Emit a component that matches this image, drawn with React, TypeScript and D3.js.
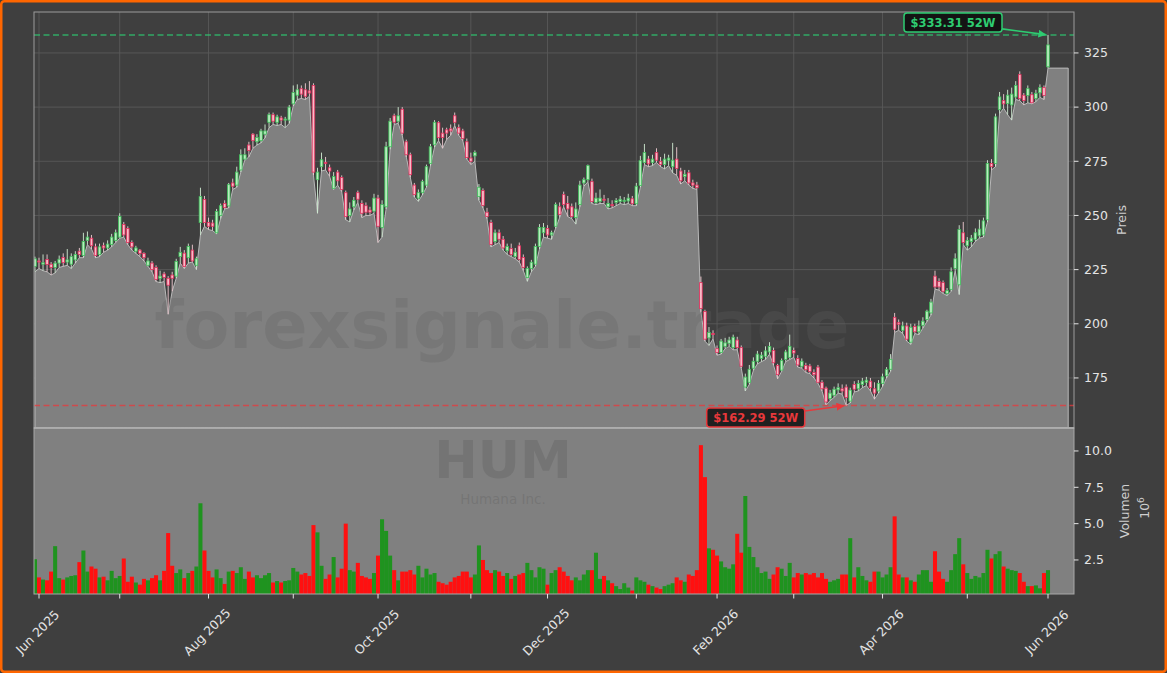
import React, { useEffect, useRef } from 'react';
import * as d3 from 'd3';

// ---- trading calendar ----
const firstDay = '2025-05-30';
const holidays = [
  '2025-06-19', '2025-07-04', '2025-09-01', '2025-11-27', '2025-12-25',
  '2026-01-01', '2026-01-19', '2026-02-16', '2026-04-03', '2026-05-25',
];

// [open, high, low, close], one row per trading day from firstDay
const candles: [number, number, number, number][] = [
  // May 30 / Jun 2025
  [226.5, 231, 224, 230], [229, 230.5, 225.5, 228.5], [227.5, 232, 224.5, 228.2], [229.7, 232, 224, 227.4],
  [227.5, 228.5, 222.5, 226], [226, 229, 223.5, 228], [228, 231.5, 226, 229.8], [230.6, 232.5, 226.5, 228.2],
  [228.5, 234.5, 227, 229.5], [227.5, 232.5, 225.5, 231], [229.5, 233.5, 228, 232], [233.5, 235, 230.5, 232],
  [231.5, 242, 230.5, 238], [238.5, 242.6, 236.5, 240], [239.5, 241, 234.5, 236], [235.5, 237, 230.5, 231.5],
  [232, 237, 231, 235.5], [236, 237.5, 233, 235], [235, 238.5, 234, 236.8], [236.6, 241.5, 235.5, 240],
  [238.5, 243.5, 237.5, 242],
  // Jul 2025
  [240, 251, 239.5, 249.5], [245.8, 247, 240, 241], [244, 245, 236.5, 237.5], [237.5, 238.5, 234, 235.5],
  [233.5, 236, 232.5, 235], [234, 234.5, 231, 232.5], [232.5, 233, 229, 230.5], [227, 230.5, 226.5, 229],
  [228, 229, 224, 225], [226, 227, 219.5, 220.5], [221, 224.5, 219, 222], [223, 224, 219.5, 221.4],
  [221, 222, 204.4, 217.8], [222.5, 224, 215, 221], [222, 230, 221, 228.8], [231, 235.5, 228, 233],
  [232.6, 234, 225.5, 226.5], [230.5, 237, 228, 235.7], [234, 236.5, 228.5, 229], [227, 231, 225, 230],
  [246.7, 262.8, 241, 258.7], [257.4, 259, 245, 246.7],
  // Aug 2025
  [246.7, 249, 243.5, 245], [246.5, 248, 243, 245], [242, 253, 241.5, 251.8], [250, 255.5, 248.5, 254.5],
  [255.5, 257, 253, 253.6], [254.4, 265, 253.5, 264.2], [265, 267, 262, 263.5], [264, 272.5, 263, 270],
  [271, 280.5, 270, 278], [276, 281, 275.5, 278], [282.5, 284, 277, 280], [287.5, 288, 281, 284.5],
  [284, 287.5, 282.5, 286], [284.5, 290, 283.5, 289], [287.5, 292, 285.8, 289], [293, 297.5, 290.5, 296.5],
  [296.5, 297.5, 292, 293.5], [293, 296.5, 291.5, 295.5], [295, 296, 292, 294], [294, 295.5, 290.5, 294.5],
  [294, 301, 292.5, 300],
  // Sep 2025
  [301.5, 310, 300.5, 306.7], [305.5, 310.5, 303.5, 308], [308.5, 310, 304, 306], [308, 311, 303.5, 305],
  [307.5, 312, 305, 306.5], [310, 311, 268.5, 270], [266.5, 272, 251, 270], [272.5, 279, 270.5, 275.7],
  [274.5, 277, 271, 274], [272, 273.5, 268, 270.5], [262.5, 270, 262, 268], [270, 271, 264, 266],
  [267.5, 268.5, 261, 262], [260.5, 261.5, 248, 249.5], [250, 256, 247, 253], [254, 258.5, 252.5, 257],
  [260.5, 261.5, 256, 257.5], [255.5, 257, 249, 251], [254.5, 256, 250, 251.5], [252.5, 254, 250, 251.5],
  [252, 260, 251, 258],
  // Oct 2025
  [258, 259.5, 237.5, 245], [244.4, 257, 240, 255], [254, 284, 253, 281.7], [281.7, 295, 280.5, 293.5],
  [296, 297, 292, 293], [293.5, 300, 292.5, 296], [299, 300, 287, 288], [284, 285, 277, 278],
  [278, 279, 267.5, 268.8], [264, 265, 258.5, 259.6], [258, 262, 256.5, 260.5], [260.5, 266.5, 259.5, 265.6],
  [264, 273.5, 263, 272.5], [274, 283, 273, 281.7], [282.6, 294, 281.5, 293], [292.8, 293.5, 284.5, 285.9],
  [288, 290.5, 281, 286], [289.5, 290.5, 285, 288], [290, 292, 287, 289], [296, 297.5, 291.5, 293],
  [290.5, 292, 287, 288], [289, 290, 284.5, 285.5], [284, 285.5, 276, 276.7],
  // Nov 2025
  [276.5, 279, 273.5, 275], [277.5, 280, 275, 279], [258.7, 264.5, 257, 263], [261.5, 262.5, 253.5, 254.6],
  [251.5, 253.5, 248.5, 249.5], [246.7, 248, 235.5, 236.6], [238, 243.5, 236.5, 242], [242, 243.5, 237.5, 239],
  [239, 240.5, 234, 235], [233.7, 237, 232, 235.7], [234.7, 237, 231, 232], [231, 235, 230, 233],
  [236, 237.5, 228.5, 229.7], [230.6, 232, 224.5, 226], [221.4, 226.5, 219.6, 225.5], [225.5, 229.5, 224, 228.4],
  [227.5, 237, 226.5, 235.7], [235.7, 246, 234.5, 244.4], [242, 246.5, 240, 244.5],
  // Dec 2025
  [244, 245.5, 239.5, 241], [241, 243, 239, 242], [245, 256, 244, 255], [254, 256, 249, 250.5],
  [259.6, 261, 254, 255], [255.5, 259, 249.5, 253], [254, 255.5, 248.5, 249.5], [249, 256, 246, 253],
  [255, 266, 254, 264], [265, 267.5, 263.5, 266.5], [266.5, 273.5, 265.5, 273], [265.6, 267, 255.5, 256.4],
  [256, 260.5, 255, 258], [256.5, 262, 255.5, 258], [257.5, 259.5, 255.5, 257], [254, 258, 253, 255.5],
  [255, 257, 253.5, 254.5], [256, 258, 254.5, 256.9], [256.5, 259, 255.5, 257.5], [256.5, 258.5, 255, 257],
  [256.7, 260, 255.5, 258], [257.7, 259, 254.5, 255.4],
  // Jan 2026
  [255.4, 265, 254.5, 263.5], [263.8, 277.5, 263, 275.3], [274.4, 283, 273.5, 279], [276, 277.5, 272.5, 273.8],
  [274.5, 278, 273, 276], [279, 281, 274.5, 275.5], [275, 277, 272.5, 273.5], [273.5, 278.5, 271.5, 276],
  [275.5, 278, 273, 276.5], [272.5, 283.5, 269.7, 275.5], [276, 281.5, 268.5, 271.7], [270.5, 272, 264.5, 266],
  [268, 271, 266, 269], [269.7, 271, 264, 265], [265, 266.5, 262.5, 264], [264, 265.5, 262, 262.8],
  [219, 221.8, 205.5, 207], [205.7, 206.5, 192, 192.9], [193.5, 198.5, 190, 196], [195.5, 197, 193, 195],
  // Feb 2026
  [188.5, 190, 185.5, 186.8], [186.8, 193, 186, 192], [189.6, 193.5, 188.5, 191.2], [191, 194, 189.5, 192.5],
  [189, 195, 188, 193.8], [192.5, 194, 188, 189], [189, 190, 179.5, 180.4], [170.8, 177, 169, 175.4],
  [173, 181, 172, 179], [179.5, 184.5, 178.5, 182.7], [182.7, 187.5, 181.5, 186], [184, 187, 182.5, 185.5],
  [185, 189.6, 183.5, 187.5], [187, 191.5, 186, 189.5], [187.7, 189, 180.8, 182], [180.8, 181.5, 174.6, 176.5],
  [178.6, 184, 178, 183], [183.5, 188, 182.5, 187], [184.5, 195, 183.5, 189.6],
  // Mar 2026
  [187.7, 189, 184.5, 186.5], [184, 185.5, 180, 181], [180.4, 184, 179.5, 182.7], [180.8, 182, 177.5, 178.8],
  [180.5, 181.5, 177, 178], [177.5, 179, 175, 176.5], [180, 181, 172.5, 173], [173, 174, 169, 170],
  [170.3, 171, 162.6, 163.9], [165.5, 169.5, 164.5, 168], [167, 171, 166, 169.8], [169.5, 172.5, 168, 170.5],
  [170, 172, 167.5, 169], [170.8, 172, 162.29, 166], [164.3, 170.5, 163.5, 169.4], [172, 173.5, 168.5, 169.8],
  [170, 174, 169, 172.5], [172, 175, 170.5, 173.5], [173, 175.5, 171.5, 174], [173.5, 175, 169, 170.5],
  [170, 173, 165.2, 168], [169, 174, 168, 172.5],
  // Apr 2026
  [172.5, 177, 171, 175.5], [176, 180, 175, 179], [179, 186, 178, 183.6], [203, 205, 196, 197.5],
  [200.5, 202, 197, 199.8], [197, 201, 195.5, 199], [199, 200.5, 192, 192.9], [191.5, 200, 190.5, 198.4],
  [198.8, 200, 195.5, 196.3], [196.3, 201.5, 195, 199], [199.3, 203, 198, 201.2], [202, 206.5, 201, 205.8],
  [205, 211.5, 204, 210], [222, 224.5, 216, 217], [219.5, 221, 215.5, 217], [219, 220, 214, 215],
  [214, 216.5, 213, 215.3], [215.9, 226, 215, 224], [225.5, 232.5, 224.5, 230], [218, 245.5, 213.5, 243.5],
  [242, 247, 236.5, 237.5],
  // May 2026
  [236, 240, 234, 238.5], [238, 241, 235.5, 239.5], [239, 244, 238, 242], [240.6, 248, 239.5, 243.7],
  [241, 249, 240, 247.5], [248, 275.5, 247, 274], [274, 276, 271, 272.5], [274, 297, 272.5, 295.5],
  [298.8, 307, 297, 304.7], [303, 306, 299.5, 301.5], [301.6, 308, 296.5, 305.5], [301, 309, 294, 306],
  [304.7, 312, 303.5, 310], [315, 316.5, 303, 304], [305.5, 306.5, 301, 303], [305.4, 310, 302, 308.5],
  [305.7, 307, 301.5, 302], [304, 308, 302.5, 306.4], [306.6, 310.5, 304.5, 309], [309, 310, 303.5, 305.4],
  // Jun 1 2026
  [318.6, 333.31, 318, 328.7],
];

// volume in millions, same order as candles
const volumes = [
  // May 30 / Jun 2025
  2.55, 1.3, 1.15, 1.1, 1.7, 3.45, 1.25, 1.15, 1.3, 1.4, 1.45, 2.35, 3.15, 1.7, 2.05, 1.9, 1.3, 1.35, 1.1, 1.75, 1.25,
  // Jul
  1.4, 2.6, 1.0, 1.35, 0.95, 0.8, 1.2, 1.1, 1.25, 1.45, 1.1, 1.75, 4.35, 2.1, 1.6, 1.85, 1.25, 1.6, 1.75, 2.05, 6.4, 3.15,
  // Aug
  1.75, 1.3, 1.85, 1.25, 0.85, 1.7, 1.75, 1.6, 2.0, 1.2, 1.7, 1.3, 1.45, 1.25, 1.45, 1.6, 0.95, 1.05, 0.95, 1.05, 1.1,
  // Sep
  1.95, 1.7, 1.5, 1.6, 1.4, 4.9, 4.4, 2.1, 1.2, 1.5, 2.7, 1.3, 1.9, 5.0, 1.8, 1.7, 2.3, 1.4, 1.3, 1.2, 1.6,
  // Oct
  2.8, 5.3, 4.5, 2.8, 1.8, 1.1, 1.7, 1.7, 1.8, 1.5, 2.1, 1.3, 1.9, 1.5, 1.6, 1.0, 0.9, 0.8, 1.0, 1.3, 1.4, 1.7, 1.7,
  // Nov
  1.3, 1.5, 3.5, 2.5, 1.8, 1.6, 1.8, 1.7, 1.4, 1.6, 1.2, 1.4, 1.5, 1.6, 2.3, 1.8, 1.3, 2.0, 1.9,
  // Dec
  0.8, 1.6, 1.8, 2.0, 1.7, 1.4, 1.1, 1.3, 1.1, 1.5, 1.8, 1.8, 3.0, 1.2, 1.4, 1.1, 0.9, 0.7, 0.5, 0.9, 0.6, 0.4,
  // Jan 2026
  1.3, 1.1, 1.0, 0.8, 0.7, 0.6, 0.5, 0.7, 0.8, 0.9, 1.3, 1.1, 1.0, 1.5, 1.4, 1.8, 10.4, 8.2, 3.3, 3.2,
  // Feb
  2.8, 2.4, 2.0, 1.9, 2.2, 4.3, 3.0, 6.9, 3.4, 2.7, 2.0, 1.6, 1.7, 1.2, 1.5, 2.0, 1.9, 1.4, 2.3,
  // Mar
  1.3, 1.6, 1.5, 1.6, 1.5, 1.6, 1.3, 1.6, 1.2, 1.0, 1.1, 1.2, 1.5, 1.5, 4.0, 1.3, 2.0, 1.4, 1.1, 1.0, 1.7, 1.7,
  // Apr
  1.3, 1.5, 2.0, 5.5, 1.5, 1.3, 1.3, 1.1, 1.0, 1.5, 1.8, 1.8, 1.0, 3.1, 1.7, 1.2, 1.0, 1.8, 2.9, 4.0, 2.2,
  // May
  1.6, 1.2, 1.4, 1.3, 1.6, 3.2, 2.6, 2.9, 3.1, 2.05, 1.9, 1.8, 1.75, 1.6, 1.0, 0.7, 0.7, 0.75, 0.55, 1.6,
  // Jun 1
  1.8,
];

const priceTicks = [175, 200, 225, 250, 275, 300, 325];
const volumeTicks = [2.5, 5.0, 7.5, 10.0];
const labelledMonths = [5, 7, 9, 11, 1, 3]; // Jun, Aug, Oct, Dec, Feb, Apr
const tickerName = 'HUM';
const companyName = 'Humana Inc.';
const watermark = 'forexsignale.trade';

const FONT = "'DejaVu Sans', 'Liberation Sans', sans-serif";

const App: React.FC = () => {
  const svgRef = useRef<SVGSVGElement>(null);

  useEffect(() => {
    if (!svgRef.current) return;
    const svg = d3.select(svgRef.current);
    svg.selectAll('*').remove();

    // ===== layout =====
    const width = 1167;
    const height = 673;
    const left = 34, right = 1074;
    const pTop = 12, pBottom = 428;
    const vTop = 428, vBottom = 594;
    const bg = '#3f3f3f';
    const paneGrey = '#808080';
    const gridColor = '#595959';
    const textColor = '#e4e4e4';
    const green = '#2ecc71';
    const red = '#e8383b';
    const areaPad = 5; // trading days the filled area runs past the last candle

    const n = Math.min(candles.length, volumes.length);
    const data = d3.range(n).map(i => ({
      i, o: candles[i][0], h: candles[i][1], l: candles[i][2], c: candles[i][3], v: volumes[i],
    }));

    // trading dates
    const fmtKey = d3.timeFormat('%Y-%m-%d');
    const dates: Date[] = [];
    const d = new Date(firstDay + 'T12:00:00');
    while (dates.length < n) {
      const dow = d.getDay();
      if (dow !== 0 && dow !== 6 && !holidays.includes(fmtKey(d))) dates.push(new Date(d));
      d.setDate(d.getDate() + 1);
    }
    const monthStarts = dates
      .map((dt, i) => ({ dt, i }))
      .filter(({ dt, i }) => i > 0 && dt.getMonth() !== dates[i - 1].getMonth());

    // ===== scales =====
    const x = d3.scaleLinear().domain([-0.24, 257.44]).range([left, right]);
    const yP = d3.scaleLinear().domain([151.9, 343.9]).range([pBottom, pTop]);
    const yV = d3.scaleLinear().domain([0, 11.58]).range([596.3, vTop]);

    // ===== defs =====
    const defs = svg.append('defs');
    defs.append('clipPath').attr('id', 'clipP')
      .append('rect').attr('x', left).attr('y', pTop).attr('width', right - left).attr('height', pBottom - pTop);
    defs.append('clipPath').attr('id', 'clipV')
      .append('rect').attr('x', left).attr('y', vTop).attr('width', right - left).attr('height', vBottom - vTop);
    [['arrG', green], ['arrR', red]].forEach(([id, col]) => {
      defs.append('marker').attr('id', id).attr('viewBox', '0 0 10 10')
        .attr('refX', 9).attr('refY', 5).attr('markerWidth', 8).attr('markerHeight', 8)
        .attr('markerUnits', 'userSpaceOnUse').attr('orient', 'auto')
        .append('path').attr('d', 'M0,0 L10,5 L0,10 z').attr('fill', col);
    });

    svg.append('rect').attr('width', width).attr('height', height).attr('fill', bg);

    // ===== price pane =====
    const gP = svg.append('g');
    gP.append('rect').attr('x', left).attr('y', pTop).attr('width', right - left).attr('height', pBottom - pTop).attr('fill', bg);

    priceTicks.forEach(t => {
      gP.append('line').attr('x1', left).attr('x2', right).attr('y1', yP(t)).attr('y2', yP(t))
        .attr('stroke', gridColor).attr('stroke-width', 0.9);
    });
    monthStarts.forEach(({ i }) => {
      gP.append('line').attr('x1', x(i)).attr('x2', x(i)).attr('y1', pTop).attr('y2', pBottom)
        .attr('stroke', gridColor).attr('stroke-width', 0.9);
    });

    // filled area under the lows
    const areaPts: [number, number][] = data.map(p => [p.i, p.l]);
    areaPts.push([n - 1 + areaPad, data[n - 1].l]);
    const area = d3.area<[number, number]>()
      .x(p => x(p[0])).y0(pBottom).y1(p => yP(p[1]));
    gP.append('path').attr('clip-path', 'url(#clipP)')
      .attr('d', area(areaPts))
      .attr('fill', paneGrey).attr('stroke', '#b9b9b9').attr('stroke-width', 1);

    // watermark
    gP.append('text').attr('x', 502).attr('y', 348).attr('text-anchor', 'middle')
      .attr('font-family', FONT).attr('font-weight', 'bold').attr('font-size', 66)
      .attr('textLength', 695).attr('lengthAdjust', 'spacingAndGlyphs')
      .attr('fill', '#606060').attr('fill-opacity', 0.28).text(watermark);

    // 52W lines
    const hiIdx = d3.maxIndex(data, p => p.h);
    const loIdx = d3.minIndex(data, p => p.l);
    const hi = data[hiIdx].h, lo = data[loIdx].l;
    [[hi, green], [lo, red]].forEach(([val, col]) => {
      gP.append('line').attr('x1', left).attr('x2', right)
        .attr('y1', yP(val as number)).attr('y2', yP(val as number))
        .attr('stroke', col as string).attr('stroke-opacity', 0.75).attr('stroke-width', 1.5)
        .attr('stroke-dasharray', '6,3.5');
    });

    // candles
    const gC = gP.append('g').attr('clip-path', 'url(#clipP)');
    const bodyW = 2.6;
    data.forEach(p => {
      const up = p.c >= p.o;
      const cx = x(p.i);
      gC.append('line').attr('x1', cx).attr('x2', cx).attr('y1', yP(p.h)).attr('y2', yP(p.l))
        .attr('stroke', up ? '#d3eed5' : '#f2cdd4').attr('stroke-width', 0.9);
      const y0 = yP(Math.max(p.o, p.c)), y1 = yP(Math.min(p.o, p.c));
      gC.append('rect').attr('x', cx - bodyW / 2).attr('y', y0)
        .attr('width', bodyW).attr('height', Math.max(0.8, y1 - y0))
        .attr('fill', up ? '#b9ecbf' : '#f8bcc8')
        .attr('stroke', up ? '#3fbf5a' : '#e32d5b').attr('stroke-width', 0.8);
    });

    gP.append('rect').attr('x', left).attr('y', pTop).attr('width', right - left).attr('height', pBottom - pTop)
      .attr('fill', 'none').attr('stroke', '#9c9c9c').attr('stroke-width', 1);

    // right axis (price)
    priceTicks.forEach(t => {
      gP.append('line').attr('x1', right).attr('x2', right + 4.5).attr('y1', yP(t)).attr('y2', yP(t))
        .attr('stroke', textColor).attr('stroke-width', 1);
      gP.append('text').attr('x', right + 10).attr('y', yP(t)).attr('dy', '0.35em')
        .attr('font-family', FONT).attr('font-size', 12.5).attr('fill', textColor).text(String(t));
    });
    gP.append('text').attr('transform', `translate(1126,${(pTop + pBottom) / 2}) rotate(-90)`)
      .attr('text-anchor', 'middle').attr('font-family', FONT).attr('font-size', 12.5)
      .attr('fill', '#cfcfcf').text('Preis');

    // ===== volume pane =====
    const gV = svg.append('g');
    gV.append('rect').attr('x', left).attr('y', vTop).attr('width', right - left).attr('height', vBottom - vTop)
      .attr('fill', paneGrey);
    gV.append('text').attr('x', 503).attr('y', 478).attr('text-anchor', 'middle')
      .attr('font-family', FONT).attr('font-weight', 'bold').attr('font-size', 52)
      .attr('fill', '#5a5a5a').attr('fill-opacity', 0.3).text(tickerName);
    gV.append('text').attr('x', 503).attr('y', 503.5).attr('text-anchor', 'middle')
      .attr('font-family', FONT).attr('font-size', 13.5)
      .attr('fill', '#5a5a5a').attr('fill-opacity', 0.3).text(companyName);

    const gB = gV.append('g').attr('clip-path', 'url(#clipV)');
    const step = x(1) - x(0);
    data.forEach(p => {
      const up = p.c >= p.o;
      gB.append('rect').attr('x', x(p.i) - step / 2).attr('width', step)
        .attr('y', yV(p.v)).attr('height', yV(0) - yV(p.v))
        .attr('fill', up ? '#1f931f' : '#ff1010');
    });
    gV.append('rect').attr('x', left).attr('y', vTop).attr('width', right - left).attr('height', vBottom - vTop)
      .attr('fill', 'none').attr('stroke', '#a8a8a8').attr('stroke-width', 1);
    gV.append('line').attr('x1', left).attr('x2', right).attr('y1', vTop).attr('y2', vTop)
      .attr('stroke', '#b0b0b0').attr('stroke-width', 1.5);

    volumeTicks.forEach(t => {
      gV.append('line').attr('x1', right).attr('x2', right + 4.5).attr('y1', yV(t)).attr('y2', yV(t))
        .attr('stroke', textColor).attr('stroke-width', 1);
      gV.append('text').attr('x', right + 10).attr('y', yV(t)).attr('dy', '0.35em')
        .attr('font-family', FONT).attr('font-size', 12.5).attr('fill', textColor).text(d3.format('.1f')(t));
    });
    gV.append('text').attr('transform', `translate(1129,${(vTop + vBottom) / 2}) rotate(-90)`)
      .attr('text-anchor', 'middle').attr('font-family', FONT).attr('font-size', 12.5)
      .attr('fill', '#cfcfcf').text('Volumen');
    const off = gV.append('text').attr('transform', `translate(1149,508) rotate(-90)`)
      .attr('text-anchor', 'middle').attr('font-family', FONT).attr('font-size', 12.5).attr('fill', '#cfcfcf');
    off.append('tspan').text('10');
    off.append('tspan').attr('dy', -5).attr('font-size', 9).text('6');

    // x axis ticks
    const fmtMonth = d3.timeFormat('%b %Y');
    monthStarts.forEach(({ dt, i }) => {
      const tx = x(i);
      gV.append('line').attr('x1', tx).attr('x2', tx).attr('y1', vBottom).attr('y2', vBottom + 4.5)
        .attr('stroke', textColor).attr('stroke-width', 1);
      if (labelledMonths.includes(dt.getMonth())) {
        gV.append('text').attr('transform', `translate(${tx - 1.5},632) rotate(-45)`)
          .attr('text-anchor', 'middle').attr('dominant-baseline', 'central')
          .attr('font-family', FONT).attr('font-size', 12.5).attr('fill', textColor)
          .text(fmtMonth(dt));
      }
    });

    // ===== 52W annotations =====
    const annotate = (idx: number, val: number, dx: number, dy: number, col: string, marker: string) => {
      const tx = x(idx), ty = yP(val);
      const bw = 98, bh = 19;
      const cx = tx + dx, cy = ty + dy;
      const g = svg.append('g');
      // arrow from box edge toward the point
      const sx = cx + bw / 2;
      const sy = cy + (ty - cy) * ((bw / 2) / (tx - cx));
      const len = Math.hypot(tx - sx, ty - sy);
      const ex = tx - (tx - sx) / len * 2.5, ey = ty - (ty - sy) / len * 2.5;
      g.append('line').attr('x1', sx).attr('y1', sy).attr('x2', ex).attr('y2', ey)
        .attr('stroke', col).attr('stroke-width', 1.6).attr('marker-end', `url(#${marker})`);
      g.append('rect').attr('x', cx - bw / 2).attr('y', cy - bh / 2).attr('width', bw).attr('height', bh)
        .attr('rx', 3).attr('fill', '#0b0b0b').attr('fill-opacity', 0.82)
        .attr('stroke', col).attr('stroke-width', 1.5);
      g.append('text').attr('x', cx).attr('y', cy).attr('dy', '0.36em').attr('text-anchor', 'middle')
        .attr('font-family', FONT).attr('font-weight', 'bold').attr('font-size', 11.5).attr('fill', col)
        .text(`$${val.toFixed(2)} 52W`);
    };
    annotate(hiIdx, hi, -95, -12.5, green, 'arrG');
    annotate(loIdx, lo, -90.5, 11.9, red, 'arrR');

    // orange frame
    svg.append('rect').attr('x', 1.25).attr('y', 1.25).attr('width', width - 2.5).attr('height', height - 2.5)
      .attr('rx', 3).attr('fill', 'none').attr('stroke', '#ff6600').attr('stroke-width', 2.5);
  }, []);

  return (
    <svg ref={svgRef} width={1167} height={673}
      style={{ position: 'absolute', left: 0, top: 0, display: 'block' }} />
  );
};

export default App;
